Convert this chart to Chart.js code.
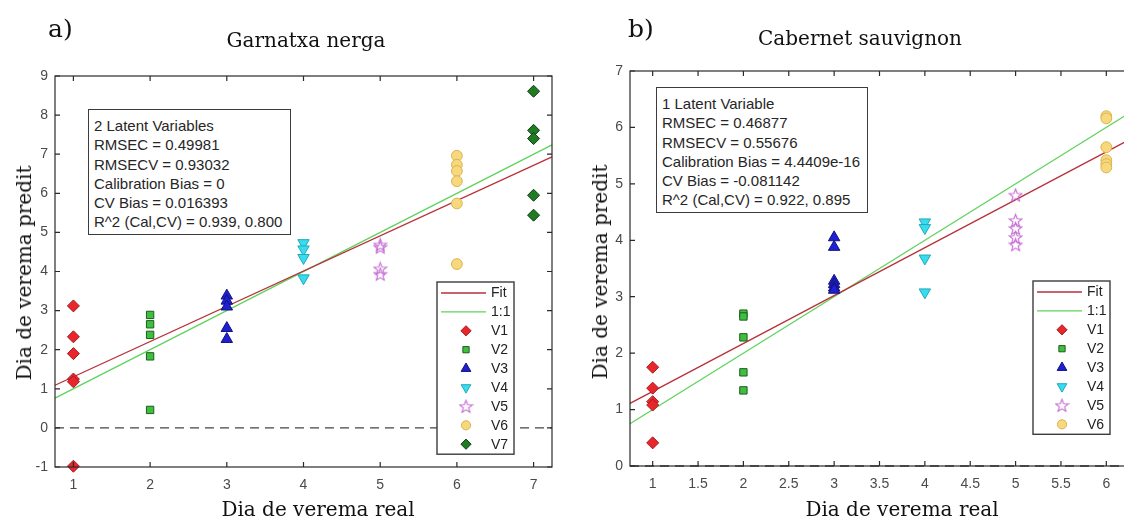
<!DOCTYPE html>
<html>
<head>
<meta charset="utf-8">
<script src="https://cdn.jsdelivr.net/npm/chart.js@4.4.1/dist/chart.umd.min.js"></script>
<style>
  body { margin: 0; width: 1124px; height: 523px; overflow: hidden; position: relative; background: #fff; }
  canvas { position: absolute; top: 0; }
  .serif { position: absolute; font-family: "DejaVu Serif", serif; color: #111; white-space: nowrap; line-height: 1; }
  .stats { position: absolute; box-sizing: border-box; border: 1.4px solid #3c3c3c; background: #fff;
           font-family: "Liberation Sans", Arial, sans-serif; font-size: 15px; line-height: 19.3px;
           color: #262626; padding: 6px 0 0 5px; white-space: nowrap; }
</style>
</head>
<body>
<canvas id="left" width="562" height="523" style="left:0"></canvas>
<canvas id="right" width="575" height="523" style="left:565px"></canvas>

<div class="serif" style="left:48px;top:16px;font-size:25px">a)</div>
<div class="serif" style="left:306px;top:30px;font-size:20px;transform:translateX(-50%)">Garnatxa nerga</div>
<div class="serif" style="left:318px;top:499px;font-size:20px;transform:translateX(-50%)">Dia de verema real</div>
<div class="serif" style="left:24px;top:273px;font-size:20px;transform:translate(-50%,-50%) rotate(-90deg)">Dia de verema predit</div>

<div class="serif" style="left:628px;top:16px;font-size:25px">b)</div>
<div class="serif" style="left:860px;top:28px;font-size:20px;transform:translateX(-50%)">Cabernet sauvignon</div>
<div class="serif" style="left:902px;top:499px;font-size:20px;transform:translateX(-50%)">Dia de verema real</div>
<div class="serif" style="left:600px;top:272px;font-size:20px;transform:translate(-50%,-50%) rotate(-90deg)">Dia de verema predit</div>

<div class="stats" style="left:88px;top:109px;width:203px;height:126px">
  2 Latent Variables<br>RMSEC = 0.49981<br>RMSECV = 0.93032<br>Calibration Bias = 0<br>CV Bias = 0.016393<br>R^2 (Cal,CV) = 0.939, 0.800
</div>
<div class="stats" style="left:656px;top:87px;width:212px;height:126px">
  1 Latent Variable<br>RMSEC = 0.46877<br>RMSECV = 0.55676<br>Calibration Bias = 4.4409e-16<br>CV Bias = -0.081142<br>R^2 (Cal,CV) = 0.922, 0.895
</div>

<script>
// ---- Garnatxa nerga (a) ----
const leftXRange = [0.76, 7.24];
const leftYRange = [-1, 9];
const leftXTicks = [1, 2, 3, 4, 5, 6, 7];
const leftYTicks = [-1, 0, 1, 2, 3, 4, 5, 6, 7, 8, 9];
const leftFit = [1.09, 6.93];
const leftV1 = [3.12, 2.33, 1.9, 1.25, 1.18, -0.98];
const leftV2 = [2.89, 2.65, 2.38, 1.83, 0.46];
const leftV3 = [3.38, 3.25, 3.1, 2.55, 2.27];
const leftV4 = [4.73, 4.57, 4.35, 3.83];
const leftV5 = [4.68, 4.62, 4.07, 3.93];
const leftV6 = [6.96, 6.73, 6.57, 6.31, 5.74, 4.19];
const leftV7 = [8.61, 7.61, 7.4, 5.95, 5.44];

// ---- Cabernet sauvignon (b) ----
const rightXRange = [0.75, 6.25];
const rightYRange = [0, 7];
const rightXTicks = [1, 1.5, 2, 2.5, 3, 3.5, 4, 4.5, 5, 5.5, 6];
const rightYTicks = [0, 1, 2, 3, 4, 5, 6, 7];
const rightFit = [1.11, 5.78];
const rightV1 = [1.75, 1.38, 1.14, 1.08, 0.41];
const rightV2 = [2.7, 2.65, 2.28, 1.66, 1.34];
const rightV3 = [4.05, 3.88, 3.28, 3.22, 3.16, 3.12];
const rightV4 = [4.32, 4.22, 3.68, 3.08];
const rightV5 = [4.8, 4.35, 4.21, 4.05, 3.92];
const rightV6 = [6.2, 6.16, 5.65, 5.42, 5.35, 5.29];

function starImage(color) {
  const c = document.createElement('canvas');
  c.width = 15; c.height = 15;
  const g = c.getContext('2d');
  g.beginPath();
  for (let i = 0; i < 10; i++) {
    const r = i % 2 ? 2.8 : 6.6;
    const a = -Math.PI / 2 + i * Math.PI / 5;
    g.lineTo(7.5 + r * Math.cos(a), 8 + r * Math.sin(a));
  }
  g.closePath();
  g.strokeStyle = color;
  g.lineWidth = 1.1;
  g.stroke();
  return c;
}

const markerStyles = {
  V1: { pointStyle: 'rectRot', pointRadius: 6, backgroundColor: '#e8272d', borderColor: '#a31c20' },
  V2: { pointStyle: 'rect', pointRadius: 5.2, backgroundColor: '#3fbe3f', borderColor: '#1d5e1d' },
  V3: { pointStyle: 'triangle', pointRadius: 6.6, backgroundColor: '#2020d2', borderColor: '#12127e' },
  V4: { pointStyle: 'triangle', pointRadius: 6.6, pointRotation: 180, backgroundColor: '#38dcef', borderColor: '#22a9bb' },
  V5: { pointStyle: starImage('#c46ad4'), pointRadius: 6, backgroundColor: '#c46ad4', borderColor: '#c46ad4' },
  V6: { pointStyle: 'circle', pointRadius: 5.4, backgroundColor: '#f8d87c', borderColor: '#d8b550' },
  V7: { pointStyle: 'rectRot', pointRadius: 6, backgroundColor: '#1f7c22', borderColor: '#0e3d10' }
};

function pointSet(label, day, values) {
  return Object.assign({
    label,
    data: values.map(v => ({ x: day, y: v })),
    showLine: false, clip: false, order: 1, pointBorderWidth: 1
  }, markerStyles[label]);
}

function lineSet(label, xr, yr, color, dash) {
  return {
    label,
    data: [{ x: xr[0], y: yr[0] }, { x: xr[1], y: yr[1] }],
    showLine: true, isLine: true, clip: false, order: 2,
    borderColor: color, borderWidth: 1.3, borderDash: dash || [],
    pointRadius: 0
  };
}

const framePlugin = {
  id: 'frame',
  afterDatasetsDraw(chart, args, opts) {
    const { ctx, chartArea: a, scales: { x, y } } = chart;
    ctx.save();
    ctx.strokeStyle = '#2a2a2a';
    ctx.lineWidth = 1.2;
    ctx.strokeRect(a.left, a.top, a.right - a.left, a.bottom - a.top);
    ctx.beginPath();
    x.ticks.forEach(t => {
      const px = x.getPixelForValue(t.value);
      ctx.moveTo(px, a.bottom); ctx.lineTo(px, a.bottom - 5);
      ctx.moveTo(px, a.top); ctx.lineTo(px, a.top + 5);
    });
    y.ticks.forEach(t => {
      const py = y.getPixelForValue(t.value);
      ctx.moveTo(a.left, py); ctx.lineTo(a.left + 5, py);
      ctx.moveTo(a.right, py); ctx.lineTo(a.right - 5, py);
    });
    ctx.stroke();

    // legend box
    const items = chart.data.datasets.filter(d => d.label);
    const rowH = 18.9;
    const L = opts.x, T = opts.y, W = 77, H = 11 + (items.length - 1) * rowH + 10;
    ctx.fillStyle = '#fff';
    ctx.fillRect(L, T, W, H);
    ctx.strokeStyle = '#3c3c3c';
    ctx.lineWidth = 1.4;
    ctx.strokeRect(L, T, W, H);
    ctx.font = '14px "Liberation Sans", Arial, sans-serif';
    ctx.textBaseline = 'middle';
    items.forEach((d, i) => {
      const ry = T + 11 + i * rowH;
      if (d.isLine) {
        ctx.strokeStyle = d.borderColor;
        ctx.lineWidth = 1.3;
        ctx.beginPath(); ctx.moveTo(L + 4, ry); ctx.lineTo(L + 49, ry); ctx.stroke();
      } else {
        ctx.fillStyle = d.backgroundColor;
        ctx.strokeStyle = d.borderColor;
        ctx.lineWidth = 1;
        const o = { pointStyle: d.pointStyle, radius: d.pointRadius * 0.85, rotation: d.pointRotation || 0, borderWidth: 1 };
        if (Chart.helpers && Chart.helpers.drawPoint) {
          Chart.helpers.drawPoint(ctx, o, L + 29, ry);
        }
      }
      ctx.fillStyle = '#222';
      ctx.fillText(d.label, L + 54, ry + 0.5);
    });
    ctx.restore();
  }
};

function makeChart(id, cfg) {
  const tickFont = { family: '"Liberation Sans", Arial, sans-serif', size: 14 };
  return new Chart(document.getElementById(id), {
    type: 'scatter',
    data: { datasets: cfg.datasets },
    options: {
      responsive: false, animation: false, devicePixelRatio: 1, events: [],
      layout: { padding: { left: 0, right: cfg.padRight, top: cfg.top, bottom: 0 } },
      plugins: { legend: { display: false }, tooltip: { enabled: false }, frame: cfg.legend },
      scales: {
        x: {
          type: 'linear', min: cfg.xRange[0], max: cfg.xRange[1],
          grid: { display: false, drawTicks: false }, border: { display: false },
          ticks: { font: tickFont, color: '#4a4a4a', padding: 10, maxRotation: 0, callback: v => String(v) },
          afterBuildTicks: s => { s.ticks = cfg.xTicks.map(v => ({ value: v })); },
          afterFit: s => { s.height = cfg.xHeight; }
        },
        y: {
          type: 'linear', min: cfg.yRange[0], max: cfg.yRange[1],
          grid: { display: false, drawTicks: false }, border: { display: false },
          ticks: { font: tickFont, color: '#4a4a4a', padding: 7, callback: v => String(v) },
          afterBuildTicks: s => { s.ticks = cfg.yTicks.map(v => ({ value: v })); },
          afterFit: s => { s.width = cfg.yWidth; }
        }
      }
    },
    plugins: [framePlugin]
  });
}

makeChart('left', {
  xRange: leftXRange, yRange: leftYRange, xTicks: leftXTicks, yTicks: leftYTicks,
  padRight: 10, top: 76, xHeight: 56, yWidth: 55,
  legend: { x: 437, y: 282 },
  datasets: [
    lineSet('Fit', leftXRange, leftFit, '#b8313a'),
    lineSet('1:1', leftXRange, leftXRange, '#5ed35c'),
    lineSet('', leftXRange, [0, 0], '#444', [9, 6]),
    pointSet('V1', 1, leftV1),
    pointSet('V2', 2, leftV2),
    pointSet('V3', 3, leftV3),
    pointSet('V4', 4, leftV4),
    pointSet('V5', 5, leftV5),
    pointSet('V6', 6, leftV6),
    pointSet('V7', 7, leftV7)
  ]
});

makeChart('right', {
  xRange: rightXRange, yRange: rightYRange, xTicks: rightXTicks, yTicks: rightYTicks,
  padRight: 11, top: 71, xHeight: 57, yWidth: 65,
  legend: { x: 468, y: 281 },
  datasets: [
    lineSet('Fit', rightXRange, rightFit, '#b8313a'),
    lineSet('1:1', rightXRange, rightXRange, '#5ed35c'),
    lineSet('', rightXRange, [0, 0], '#444', [9, 6]),
    pointSet('V1', 1, rightV1),
    pointSet('V2', 2, rightV2),
    pointSet('V3', 3, rightV3),
    pointSet('V4', 4, rightV4),
    pointSet('V5', 5, rightV5),
    pointSet('V6', 6, rightV6)
  ]
});
</script>
</body>
</html>
